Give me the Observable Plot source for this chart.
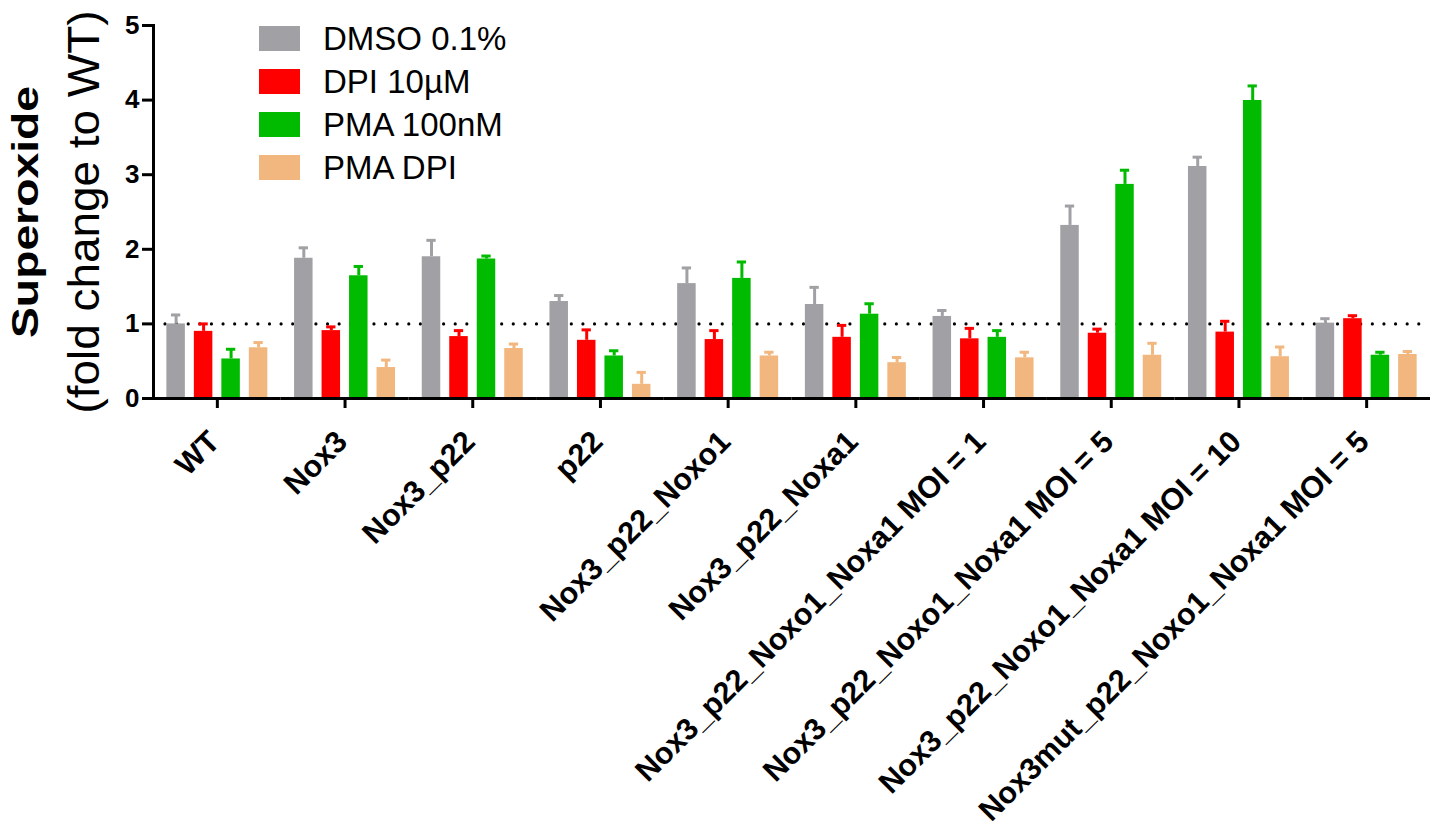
<!DOCTYPE html>
<html><head><meta charset="utf-8">
<script src="https://cdn.jsdelivr.net/npm/d3@7"></script>
<script src="https://cdn.jsdelivr.net/npm/@observablehq/plot@0.6"></script>
<style>
body{margin:0;background:#fff;}
#wrap{position:relative;width:1447px;height:834px;font-family:"Liberation Sans",Arial,sans-serif;}
#legend{position:absolute;left:259px;top:17px;}
.row{display:flex;align-items:center;height:43px;}
.sw{width:41px;height:25px;margin-right:23px;}
.lab{font-size:33px;line-height:1;color:#000;white-space:nowrap;}
</style></head><body><div id="wrap"><div id="legend"></div></div>
<script>
const groups = ["WT", "Nox3", "Nox3_p22", "p22", "Nox3_p22_Noxo1", "Nox3_p22_Noxa1",
  "Nox3_p22_Noxo1_Noxa1 MOI = 1", "Nox3_p22_Noxo1_Noxa1 MOI = 5",
  "Nox3_p22_Noxo1_Noxa1 MOI = 10", "Nox3mut_p22_Noxo1_Noxa1 MOI = 5"];
const conditions = ["DMSO 0.1%", "DPI 10µM", "PMA 100nM", "PMA DPI"];
const colors = ["#a1a1a5", "#ff0000", "#00bb00", "#f2b77e"];
const yTicks = [0, 1, 2, 3, 4, 5];
const baseline = [1];

const dmsoMean   = [1.00, 1.88, 1.90, 1.30, 1.54, 1.26, 1.10, 2.32, 3.11, 1.01];
const dmsoErr    = [0.12, 0.14, 0.22, 0.08, 0.21, 0.23, 0.08, 0.26, 0.125, 0.06];
const dpiMean    = [0.90, 0.91, 0.83, 0.78, 0.79, 0.82, 0.80, 0.875, 0.89, 1.07];
const dpiErr     = [0.10, 0.05, 0.08, 0.14, 0.12, 0.16, 0.14, 0.055, 0.145, 0.04];
const pmaMean    = [0.53, 1.645, 1.87, 0.57, 1.61, 1.13, 0.82, 2.87, 3.995, 0.58];
const pmaErr     = [0.13, 0.125, 0.04, 0.07, 0.22, 0.14, 0.09, 0.19, 0.195, 0.04];
const pmaDpiMean = [0.68, 0.415, 0.67, 0.19, 0.57, 0.48, 0.545, 0.58, 0.56, 0.59];
const pmaDpiErr  = [0.07, 0.10, 0.06, 0.16, 0.05, 0.07, 0.075, 0.16, 0.13, 0.04];

const means = [dmsoMean, dpiMean, pmaMean, pmaDpiMean];
const errs = [dmsoErr, dpiErr, pmaErr, pmaDpiErr];
const rows = groups.flatMap((g, i) => conditions.map((c, j) => ({group: g, cond: c, mean: means[j][i], err: errs[j][i]})));

const W = 1447, H = 834, mL = 153, mR = 17, mT = 25, mB = 436;
const facetW = (W - mL - mR) / groups.length;
const dotP = facetW / 11;

const chart = Plot.plot({
  width: W, height: H,
  marginLeft: mL, marginRight: mR, marginTop: mT, marginBottom: mB,
  style: {fontFamily: "'Liberation Sans', Arial, sans-serif", background: "white", color: "#000", overflow: "visible"},
  fx: {domain: groups, padding: 0, round: false, label: null},
  x: {domain: conditions, paddingInner: 0.327, paddingOuter: 0.486, round: false, axis: null},
  y: {domain: [0, 5], label: null},
  color: {domain: conditions, range: colors},
  marks: [
    Plot.ruleY(baseline, {stroke: "#000", strokeWidth: 3.2, strokeLinecap: "round", strokeDasharray: `0,${dotP}`, strokeDashoffset: dotP - 12}),
    Plot.barY(rows, {fx: "group", x: "cond", y: "mean", fill: "cond"}),
    Plot.ruleX(rows, {fx: "group", x: "cond", y1: "mean", y2: d => d.mean + d.err, stroke: "cond", strokeWidth: 3}),
    Plot.tickY(rows, {fx: "group", x: "cond", y: d => d.mean + d.err, stroke: "cond", strokeWidth: 3, insetLeft: 4.6, insetRight: 4.6}),
    Plot.ruleY([0], {stroke: "#000", strokeWidth: 3}),
    Plot.frame({anchor: "left", facetAnchor: "left", stroke: "#000", strokeWidth: 3}),
    Plot.axisY(yTicks, {tickSize: 11, tickPadding: 3, fontSize: 26, fontWeight: "bold", strokeWidth: 3, tickFormat: d => String(d), label: null}),
    Plot.axisFx({anchor: "bottom", tickSize: 10, strokeWidth: 3, tickFormat: () => "", label: null}),
    Plot.text(groups, {fx: d => d, text: d => d, frameAnchor: "bottom", rotate: -45, textAnchor: "end", lineAnchor: "bottom", dx: 4, dy: 45, fontSize: 30.5, fontWeight: "bold"}),
    Plot.text(["Superoxide"], {frameAnchor: "left", facetAnchor: "left", rotate: -90, textAnchor: "middle", lineAnchor: "bottom", dx: -116, fontSize: 36, fontWeight: "bold"}),
    Plot.text(["(fold change to WT)"], {frameAnchor: "left", facetAnchor: "left", rotate: -90, textAnchor: "middle", lineAnchor: "bottom", dx: -55, fontSize: 45})
  ]
});

chart.querySelectorAll("text").forEach(t => {
  if (t.textContent === "Superoxide") { t.setAttribute("textLength", 252); t.setAttribute("lengthAdjust", "spacingAndGlyphs"); }
  if (t.textContent === "(fold change to WT)") { t.setAttribute("textLength", 403); t.setAttribute("lengthAdjust", "spacingAndGlyphs"); }
});

const wrap = document.getElementById("wrap");
wrap.insertBefore(chart, wrap.firstChild);
const legend = document.getElementById("legend");
conditions.forEach((c, j) => {
  const row = document.createElement("div");
  row.className = "row";
  const sw = document.createElement("div");
  sw.className = "sw";
  sw.style.background = colors[j];
  const lab = document.createElement("div");
  lab.className = "lab";
  lab.textContent = c;
  row.appendChild(sw); row.appendChild(lab);
  legend.appendChild(row);
});
</script></body></html>
